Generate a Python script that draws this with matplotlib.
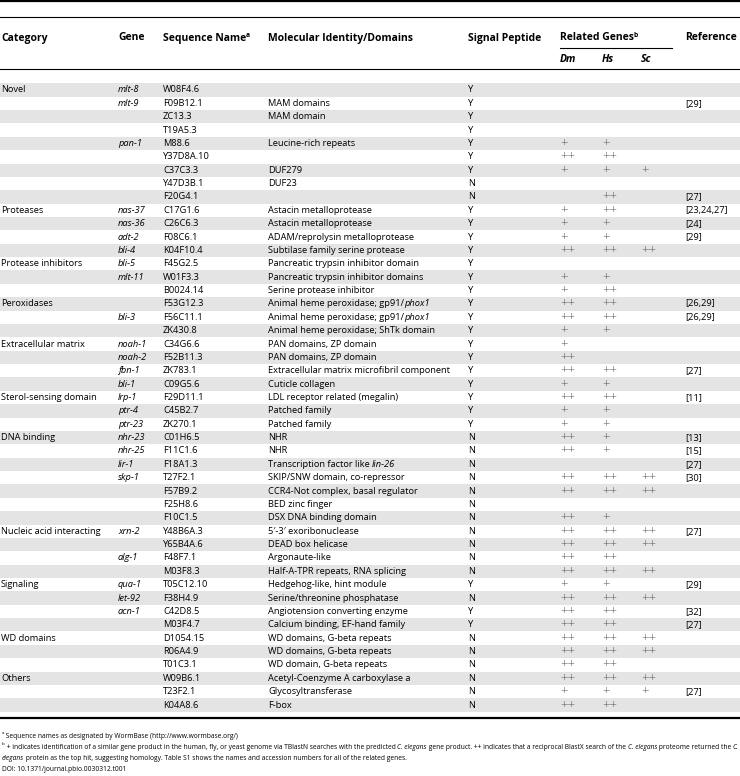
import matplotlib
matplotlib.use("Agg")
import matplotlib.pyplot as plt
from matplotlib.patches import Rectangle

# table contents, one entry per row
categories = ["Novel", "", "", "", "", "", "", "", "",
              "Proteases", "", "", "",
              "Protease inhibitors", "", "",
              "Peroxidases", "", "",
              "Extracellular matrix", "", "", "",
              "Sterol-sensing domain", "", "",
              "DNA binding", "", "", "", "", "", "",
              "Nucleic acid interacting", "", "", "",
              "Signaling", "", "", "",
              "WD domains", "", "",
              "Others", "", ""]
genes = ["mlt-8", "mlt-9", "", "", "pan-1", "", "", "", "",
         "nas-37", "nas-36", "adt-2", "bli-4",
         "bli-5", "mlt-11", "",
         "", "bli-3", "",
         "noah-1", "noah-2", "fbn-1", "bli-1",
         "lrp-1", "ptr-4", "ptr-23",
         "nhr-23", "nhr-25", "lir-1", "skp-1", "", "", "",
         "xrn-2", "", "alg-1", "",
         "qua-1", "let-92", "acn-1", "",
         "", "", "",
         "", "", ""]
seq_names = ["W08F4.6", "F09B12.1", "ZC13.3", "T19A5.3", "M88.6", "Y37D8A.10",
             "C37C3.3", "Y47D3B.1", "F20G4.1",
             "C17G1.6", "C26C6.3", "F08C6.1", "K04F10.4",
             "F45G2.5", "W01F3.3", "B0024.14",
             "F53G12.3", "F56C11.1", "ZK430.8",
             "C34G6.6", "F52B11.3", "ZK783.1", "C09G5.6",
             "F29D11.1", "C45B2.7", "ZK270.1",
             "C01H6.5", "F11C1.6", "F18A1.3", "T27F2.1", "F57B9.2", "F25H8.6", "F10C1.5",
             "Y48B6A.3", "Y65B4A.6", "F48F7.1", "M03F8.3",
             "T05C12.10", "F38H4.9", "C42D8.5", "M03F4.7",
             "D1054.15", "R06A4.9", "T01C3.1",
             "W09B6.1", "T23F2.1", "K04A8.6"]
# *...* marks italic words
identities = ["", "MAM domains", "MAM domain", "", "Leucine-rich repeats", "",
              "DUF279", "DUF23", "",
              "Astacin metalloprotease", "Astacin metalloprotease",
              "ADAM/reprolysin metalloprotease", "Subtilase family serine protease",
              "Pancreatic trypsin inhibitor domain", "Pancreatic trypsin inhibitor domains",
              "Serine protease inhibitor",
              "Animal heme peroxidase; gp91/*phox1*", "Animal heme peroxidase; gp91/*phox1*",
              "Animal heme peroxidase; ShTk domain",
              "PAN domains, ZP domain", "PAN domains, ZP domain",
              "Extracellular matrix microfibril component", "Cuticle collagen",
              "LDL receptor related (megalin)", "Patched family", "Patched family",
              "NHR", "NHR", "Transcription factor like *lin-26*",
              "SKIP/SNW domain, co-repressor", "CCR4-Not complex, basal regulator",
              "BED zinc finger", "DSX DNA binding domain",
              "5\u2032-3\u2032 exoribonuclease", "DEAD box helicase", "Argonaute-like",
              "Half-A-TPR repeats, RNA splicing",
              "Hedgehog-like, hint module", "Serine/threonine phosphatase",
              "Angiotension converting enzyme", "Calcium binding, EF-hand family",
              "WD domains, G-beta repeats", "WD domains, G-beta repeats",
              "WD domain, G-beta repeats",
              "Acetyl-Coenzyme A carboxylase a", "Glycosyltransferase", "F-box"]
signal = ["Y", "Y", "Y", "Y", "Y", "Y", "Y", "N", "N",
          "Y", "Y", "Y", "Y",
          "Y", "Y", "Y",
          "Y", "Y", "Y",
          "Y", "Y", "Y", "Y",
          "Y", "Y", "Y",
          "N", "N", "N", "N", "N", "N", "N",
          "N", "N", "N", "N",
          "Y", "N", "Y", "Y",
          "N", "N", "N",
          "N", "N", "N"]
dm = ["", "", "", "", "+", "++", "+", "", "",
      "+", "+", "+", "++",
      "", "+", "+",
      "++", "++", "+",
      "+", "++", "++", "+",
      "++", "+", "+",
      "++", "++", "", "++", "++", "", "++",
      "++", "++", "++", "++",
      "+", "++", "++", "++",
      "++", "++", "++",
      "++", "+", "++"]
hs = ["", "", "", "", "+", "++", "+", "", "++",
      "++", "+", "+", "++",
      "", "+", "++",
      "++", "++", "+",
      "", "", "++", "+",
      "++", "+", "+",
      "+", "+", "", "++", "++", "", "+",
      "++", "++", "++", "++",
      "+", "++", "++", "++",
      "++", "++", "++",
      "++", "+", "++"]
sc = ["", "", "", "", "", "", "+", "", "",
      "", "", "", "++",
      "", "", "",
      "", "", "",
      "", "", "", "",
      "", "", "",
      "", "", "", "++", "++", "", "",
      "++", "++", "", "++",
      "", "++", "", "",
      "++", "++", "",
      "++", "+", ""]
refs = ["", "[29]", "", "", "", "", "", "", "[27]",
        "[23,24,27]", "[24]", "[29]", "",
        "", "", "",
        "[26,29]", "[26,29]", "",
        "", "", "[27]", "",
        "[11]", "", "",
        "[13]", "[15]", "[27]", "[30]", "", "", "",
        "[27]", "", "", "",
        "[29]", "", "[32]", "[27]",
        "", "", "",
        "", "[27]", ""]

footnotes = [
    [("a", "sup"), (" Sequence names as designated by WormBase (http://www.wormbase.org/)", "normal")],
    [("b", "sup"), (" + indicates identification of a similar gene product in the human, fly, or yeast "
                    "genome via TBlastN searches with the predicted ", "normal"),
     ("C. elegans", "italic"), (" gene product. ++ indicates that a reciprocal BlastX search of the ", "normal"),
     ("C. elegans", "italic"), (" proteome returned the ", "normal"), ("C.", "italic")],
    [("elegans", "italic"), (" protein as the top hit, suggesting homology. Table S1 shows the names "
                             "and accession numbers for all of the related genes.", "normal")],
    [("DOI: 10.1371/journal.pbio.0030312.t001", "normal")],
]

W, H = 740, 776
FONT = "Open Sans"
BODY = 6.65
HEAD = 7.5
NOTE = 4.82
PLUS = 9.5

fig = plt.figure(figsize=(W / 100, H / 100), dpi=100)
ax = fig.add_axes([0, 0, 1, 1])
ax.set_xlim(0, W)
ax.set_ylim(H, 0)
ax.axis("off")
renderer = fig.canvas.get_renderer()


def draw_runs(x, y, runs, size, weight="normal"):
    for txt, st in runs:
        if st == "sup":
            t = ax.text(x, y - 2.8, txt, fontsize=size * 0.65, family=FONT,
                        weight=weight, va="center")
        else:
            t = ax.text(x, y, txt, fontsize=size, family=FONT, style=st,
                        weight=weight, va="center")
        x += t.get_window_extent(renderer=renderer).width


def parse(s):
    parts = s.split("*")
    return [(p, "italic" if i % 2 else "normal") for i, p in enumerate(parts) if p]


col_x = {"cat": 1, "gene": 118, "seq": 163, "mol": 268, "sig": 468,
         "dm": 560, "hs": 602, "sc": 641, "ref": 685}

# rules
ax.plot([0, W], [1.2, 1.2], color="black", lw=1.6)
ax.plot([0, W], [17, 17], color="black", lw=0.8)
ax.plot([0, W], [69, 69], color="black", lw=0.8)
ax.plot([560, 672], [47.5, 47.5], color="black", lw=0.8)

# header
hy = 38
for key, label in [("cat", "Category"), ("gene", "Gene"), ("mol", "Molecular Identity/Domains"),
                   ("sig", "Signal Peptide"), ("ref", "Reference")]:
    ax.text(col_x[key], hy, label, fontsize=HEAD, family=FONT, weight="bold", va="center")
draw_runs(col_x["seq"], hy, [("Sequence Name", "normal"), ("a", "sup")], HEAD, "bold")
draw_runs(col_x["dm"], hy, [("Related Genes", "normal"), ("b", "sup")], HEAD, "bold")
for key, label in [("dm", "Dm"), ("hs", "Hs"), ("sc", "Sc")]:
    ax.text(col_x[key], 59, label, fontsize=HEAD, family=FONT, weight="bold",
            style="italic", va="center")

# body rows
y0, pitch = 90, 13.37
n = len(seq_names)
for i in range(n):
    y = y0 + i * pitch
    if i % 2 == 0:
        ax.add_patch(Rectangle((0, y - pitch / 2), W, pitch, color="#e4e4e4", lw=0, zorder=0))
    ax.text(col_x["cat"], y, categories[i], fontsize=BODY, family=FONT, va="center")
    ax.text(col_x["gene"], y, genes[i], fontsize=BODY, family=FONT, style="italic", va="center")
    ax.text(col_x["seq"], y, seq_names[i], fontsize=BODY, family=FONT, va="center")
    draw_runs(col_x["mol"], y, parse(identities[i]), BODY)
    ax.text(col_x["sig"], y, signal[i], fontsize=BODY, family=FONT, va="center")
    for key, vals in [("dm", dm), ("hs", hs), ("sc", sc)]:
        ax.text(col_x[key], y, vals[i], fontsize=PLUS, family=FONT, va="center",
                color="#555555", weight="light")
    ax.text(col_x["ref"], y, refs[i], fontsize=BODY, family=FONT, va="center")

bottom = y0 + (n - 1) * pitch + 13
ax.plot([0, W], [bottom, bottom], color="black", lw=1.6)

# footnotes
for j, runs in enumerate(footnotes):
    draw_runs(2, bottom + 18 + j * 11, runs, NOTE)

fig.savefig("out.png", dpi=100)
